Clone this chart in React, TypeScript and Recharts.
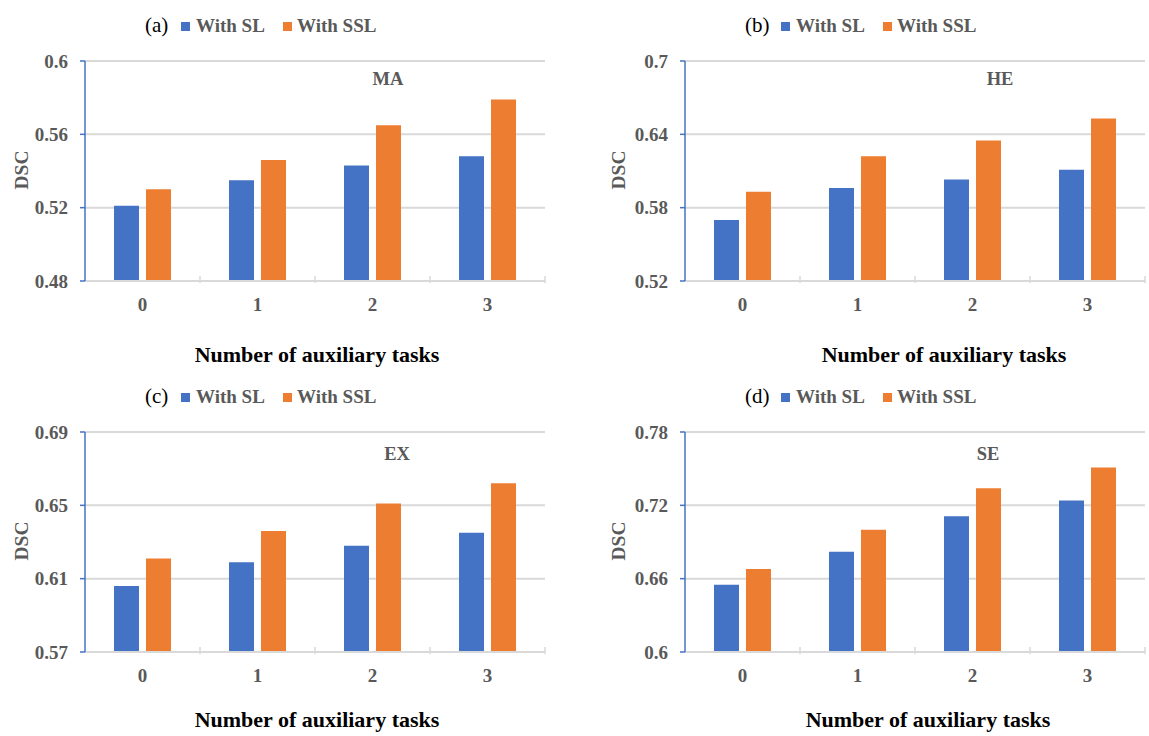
import React from "react";
import { BarChart, Bar, XAxis, YAxis, CartesianGrid } from "recharts";

// categories: number of auxiliary tasks
const categories = ["0", "1", "2", "3"];

// DSC per lesion type, supervised vs self-supervised
const maSL = [0.521, 0.535, 0.543, 0.548];
const maSSL = [0.53, 0.546, 0.565, 0.579];
const heSL = [0.57, 0.596, 0.603, 0.611];
const heSSL = [0.593, 0.622, 0.635, 0.653];
const exSL = [0.606, 0.619, 0.628, 0.635];
const exSSL = [0.621, 0.636, 0.651, 0.662];
const seSL = [0.655, 0.682, 0.711, 0.724];
const seSSL = [0.668, 0.7, 0.734, 0.751];

// y tick labels
const maTicks = [0.48, 0.52, 0.56, 0.6];
const heTicks = [0.52, 0.58, 0.64, 0.7];
const exTicks = [0.57, 0.61, 0.65, 0.69];
const seTicks = [0.6, 0.66, 0.72, 0.78];

const BLUE = "#4472C4";
const ORANGE = "#ED7D31";
const GRID = "#D9D9D9";
const GRAY = "#595959";
const SERIF = "'Liberation Serif', 'Times New Roman', serif";

const W = 549;
const H = 370;
const TICK_GAP = 17;

const panels = [
  { tag: "(a)", name: "MA", sl: maSL, ssl: maSSL, ticks: maTicks, left: 0, top: 0, nameX: 388, nameY: 85, titleX: 317, titleY: 362, dscX: 21 },
  { tag: "(b)", name: "HE", sl: heSL, ssl: heSSL, ticks: heTicks, left: 600, top: 0, nameX: 400, nameY: 85, titleX: 344, titleY: 362, dscX: 18 },
  { tag: "(c)", name: "EX", sl: exSL, ssl: exSSL, ticks: exTicks, left: 0, top: 371, nameX: 397, nameY: 89, titleX: 317, titleY: 356, dscX: 21 },
  { tag: "(d)", name: "SE", sl: seSL, ssl: seSSL, ticks: seTicks, left: 600, top: 371, nameX: 388, nameY: 89, titleX: 328, titleY: 356, dscX: 18 },
];

// x tick: label plus a small mark on the right edge of each category band
function XTick(props: any) {
  const { x, y, payload } = props;
  const half = payload && payload.offset ? payload.offset : 57.5;
  const axisY = y - TICK_GAP;
  return (
    <g>
      <line x1={x + half} x2={x + half} y1={axisY - 5} y2={axisY + 2} stroke={GRID} strokeWidth={1.5} />
      <text
        x={x}
        y={y}
        dy="0.71em"
        textAnchor="middle"
        fontFamily={SERIF}
        fontSize={19}
        fontWeight="bold"
        fill={GRAY}
      >
        {payload.value}
      </text>
    </g>
  );
}

function Panel({ p }: { p: (typeof panels)[number] }) {
  const data = categories.map((c, i) => ({ cat: c, sl: p.sl[i], ssl: p.ssl[i] }));
  const lo = p.ticks[0];
  const hi = p.ticks[p.ticks.length - 1];

  return (
    <div style={{ position: "absolute", left: p.left, top: p.top, width: W, height: H }}>
      <BarChart
        width={W}
        height={H}
        data={data}
        margin={{ top: 61, right: 4, bottom: 59, left: 25 }}
        barSize={25}
        barGap={7}
      >
        <CartesianGrid vertical={false} stroke={GRID} strokeWidth={2} />
        <XAxis
          dataKey="cat"
          height={30}
          axisLine={{ stroke: GRID, strokeWidth: 2 }}
          tickLine={false}
          tickSize={0}
          tickMargin={TICK_GAP}
          interval={0}
          tick={(props: any) => <XTick {...props} />}
        />
        <YAxis
          type="number"
          width={60}
          domain={[lo, hi]}
          ticks={p.ticks}
          interval={0}
          axisLine={{ stroke: BLUE, strokeWidth: 1.5 }}
          tickLine={{ stroke: BLUE, strokeWidth: 1.5 }}
          tickSize={5}
          tickMargin={12}
          tick={{ fontFamily: SERIF, fontSize: 19, fontWeight: "bold", fill: GRAY }}
        />
        <Bar dataKey="sl" name="With SL" fill={BLUE} isAnimationActive={false} />
        <Bar dataKey="ssl" name="With SSL" fill={ORANGE} isAnimationActive={false} />
      </BarChart>

      <svg
        width={W}
        height={H}
        style={{ position: "absolute", left: 0, top: 0, pointerEvents: "none", overflow: "visible" }}
      >
        <text x={145} y={32} fontFamily={SERIF} fontSize={21} fill="#000">
          {p.tag}
        </text>
        <rect x={181} y={22} width={9} height={9} fill={BLUE} />
        <text x={196} y={32} fontFamily={SERIF} fontSize={19} fontWeight="bold" fill={GRAY}>
          With SL
        </text>
        <rect x={283} y={22} width={9} height={9} fill={ORANGE} />
        <text x={297} y={32} fontFamily={SERIF} fontSize={19} fontWeight="bold" fill={GRAY}>
          With SSL
        </text>

        <text x={p.nameX} y={p.nameY} textAnchor="middle" fontFamily={SERIF} fontSize={18.5} fontWeight="bold" fill={GRAY}>
          {p.name}
        </text>

        <text
          x={p.dscX}
          y={170}
          transform={`rotate(-90 ${p.dscX} 170)`}
          textAnchor="middle"
          dominantBaseline="central"
          fontFamily={SERIF}
          fontSize={19.5}
          fontWeight="bold"
          fill={GRAY}
        >
          DSC
        </text>

        <text x={p.titleX} y={p.titleY} textAnchor="middle" fontFamily={SERIF} fontSize={22} fontWeight="bold" fill="#000">
          Number of auxiliary tasks
        </text>
      </svg>
    </div>
  );
}

export default function App() {
  return (
    <div
      style={{
        position: "absolute",
        left: 0,
        top: 0,
        width: 1149,
        height: 736,
        overflow: "hidden",
        background: "#fff",
      }}
    >
      {panels.map((p) => (
        <Panel key={p.tag} p={p} />
      ))}
    </div>
  );
}
